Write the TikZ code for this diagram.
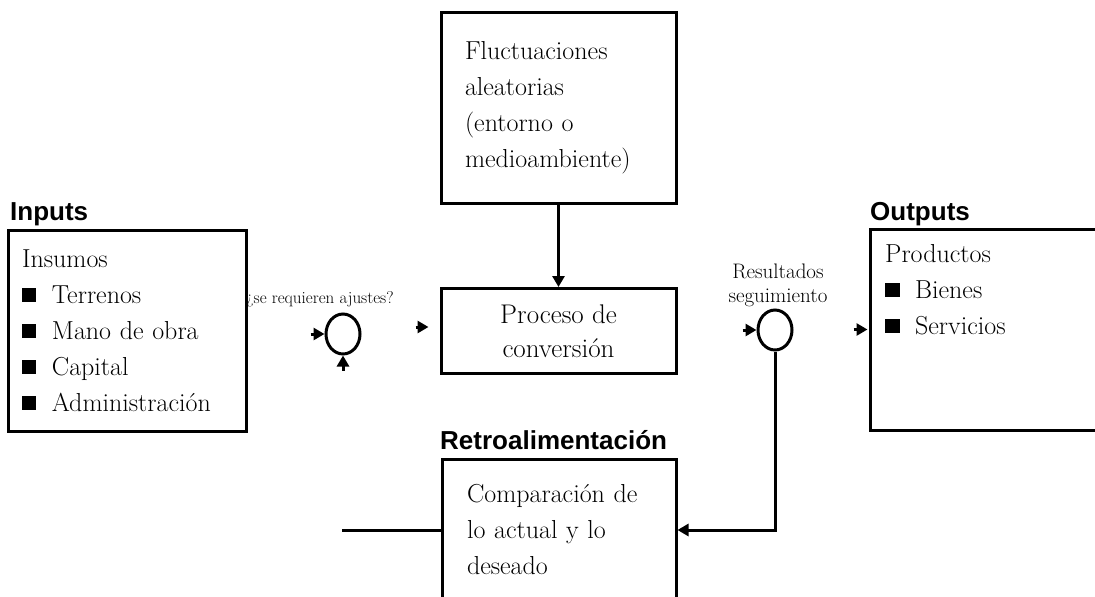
\documentclass[tikz,border=0pt]{standalone}
\usepackage{fontspec}
\usepackage{tikz}
\usetikzlibrary{arrows.meta,shapes.geometric}
\newfontfamily\headfont{Liberation Sans}
\newcommand{\sqbullet}{\rule[0.05em]{0.55em}{0.55em}\hspace{0.6em}}

\begin{document}
\begin{tikzpicture}[x=1pt,y=-1pt,
  box/.style={draw,line width=3pt,minimum width=235pt,inner sep=0pt,
              font=\fontsize{26}{36}\selectfont},
  head/.style={anchor=base west,inner sep=0pt,
               font=\headfont\bfseries\fontsize{26}{30}\selectfont},
  lbl/.style={inner sep=0pt,align=center,font=\fontsize{21}{24}\selectfont},
  ring/.style={draw,ellipse,line width=3pt,minimum width=34pt,
               minimum height=40pt,inner sep=0pt},
  arr/.style={-{Triangle[length=11pt,width=12pt]},line width=3pt},
  tip/.style={-{Triangle[length=11pt,width=12pt]},line width=3pt}]
\useasboundingbox (0,0) rectangle (1095,597);
\clip (0,0) rectangle (1095,597);
\node[box,minimum height=191pt,align=left,text width=187pt] (fluct) at (558.5,107.5)
  {Fluctuaciones\\aleatorias\\(entorno o\\medioambiente)};
\node[box,minimum height=85pt,align=center,font=\fontsize{27}{34}\selectfont] (proc) at (558.5,331)
  {Proceso de\\conversión};
\node[box,minimum width=238pt,minimum height=201pt,align=left,text width=210pt] (inbox) at (127,330.5)
  {Insumos\\\sqbullet Terrenos\\\sqbullet Mano de obra\\\sqbullet Capital\\\sqbullet Administración};
\node[head] (intit) at (10,220) {Inputs};
\node[box,minimum width=240pt,minimum height=201pt] (outbox) at (990,329.5) {};
\node[anchor=north west,align=left,inner sep=0pt,font=\fontsize{26}{36}\selectfont] (prod) at (885,244)
  {Productos\\\sqbullet Bienes\\\sqbullet Servicios};
\node[head] (outtit) at (870,220) {Outputs};
\node[box,minimum width=234pt,minimum height=142pt,align=left,text width=184pt] (fb) at (559,530)
  {Comparación de\\lo actual y lo\\deseado};
\node[head] (fbtit) at (440,449) {Retroalimentación};
\node[lbl,font=\fontsize{17}{22}\selectfont] (ajust) at (320,299) {¿se requieren ajustes?};
\node[lbl] (res) at (778,285) {Resultados\\seguimiento};
\node[ring] (c1) at (343,334) {};
\node[ring] (c2) at (775,330) {};
\coordinate (fbend) at (342,530);
% arrows
\draw[arr] (fluct.south) -- (proc.north);
\draw[arr] (c2.south) |- (fb.east);
\draw[line width=3pt] (fb.west) -- (fbend);
\draw[tip] ([xshift=-14pt]c1.west) -- (c1.west);
\draw[tip] ([yshift=-15pt]c1.south) -- (c1.south);
\draw[tip] ([xshift=-24pt,yshift=4pt]proc.west) -- ([xshift=-11pt,yshift=4pt]proc.west);
\draw[tip] ([xshift=-14pt]c2.west) -- (c2.west);
\draw[tip] ([xshift=-15pt]outbox.west) -- ([xshift=-1pt]outbox.west);
\end{tikzpicture}
\end{document}
